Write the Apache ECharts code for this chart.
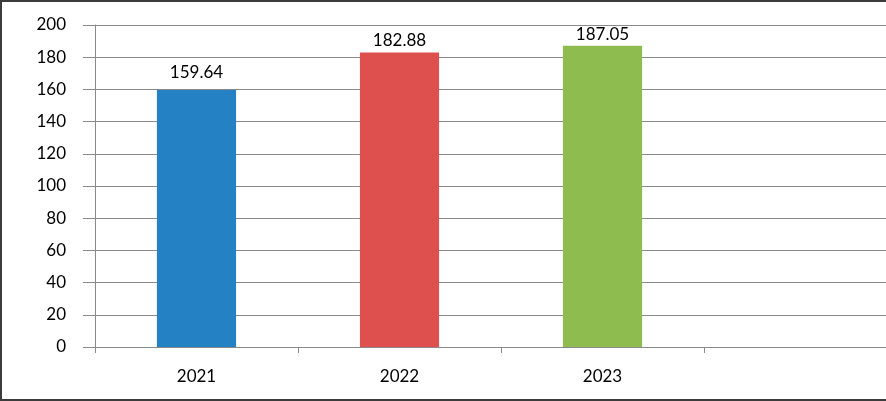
<!DOCTYPE html>
<html>
<head>
<meta charset="utf-8">
<script src="https://cdn.jsdelivr.net/npm/echarts@6/dist/echarts.min.js"></script>
<style>
  html, body { margin: 0; padding: 0; overflow: hidden; background: #fff; }
  #chart { position: absolute; left: 0; top: 0; width: 920px; height: 401px; }
  #frame { position: absolute; left: 0; top: 0; width: 920px; height: 401px; box-sizing: border-box; border: 2px solid #3c3c3c; pointer-events: none; }
</style>
</head>
<body>
<div id="chart"></div>
<div id="frame"></div>
<script>
const categories = ['2021', '2022', '2023', ''];
const values = [159.64, 182.88, 187.05, null];
const barColors = ['#2481C3', '#DE504D', '#8FBC4F'];
const labelDistances = [9, 4, 3];
const yTicks = { min: 0, max: 200, interval: 20 };

const chart = echarts.init(document.getElementById('chart'));
const gridColor = '#8a8a8a';
const font = 'Lato';
chart.setOption({
  animation: false,
  grid: { left: 95, top: 25, bottom: 54, right: 13 },
  xAxis: {
    type: 'category',
    data: categories,
    axisLine: { show: true, lineStyle: { color: gridColor, width: 1 } },
    axisTick: { show: true, alignWithLabel: false, length: 6, lineStyle: { color: gridColor } },
    axisLabel: { color: '#000', fontSize: 17, fontFamily: font, margin: 21 }
  },
  yAxis: {
    type: 'value',
    min: yTicks.min, max: yTicks.max, interval: yTicks.interval,
    axisLine: { show: true, lineStyle: { color: gridColor, width: 1 } },
    axisTick: { show: true, length: 12, lineStyle: { color: gridColor } },
    splitLine: { show: true, lineStyle: { color: gridColor, width: 1 } },
    axisLabel: { color: '#000', fontSize: 17, fontFamily: font, margin: 29 }
  },
  series: [{
    type: 'bar',
    barWidth: '39%',
    data: values.map((v, i) => v === null ? null : {
      value: v,
      itemStyle: { color: barColors[i] },
      label: { distance: labelDistances[i] }
    }),
    label: {
      show: true, position: 'top',
      color: '#000', fontSize: 17, fontFamily: font,
      formatter: p => p.value.toFixed(2)
    }
  }]
});
</script>
</body>
</html>
